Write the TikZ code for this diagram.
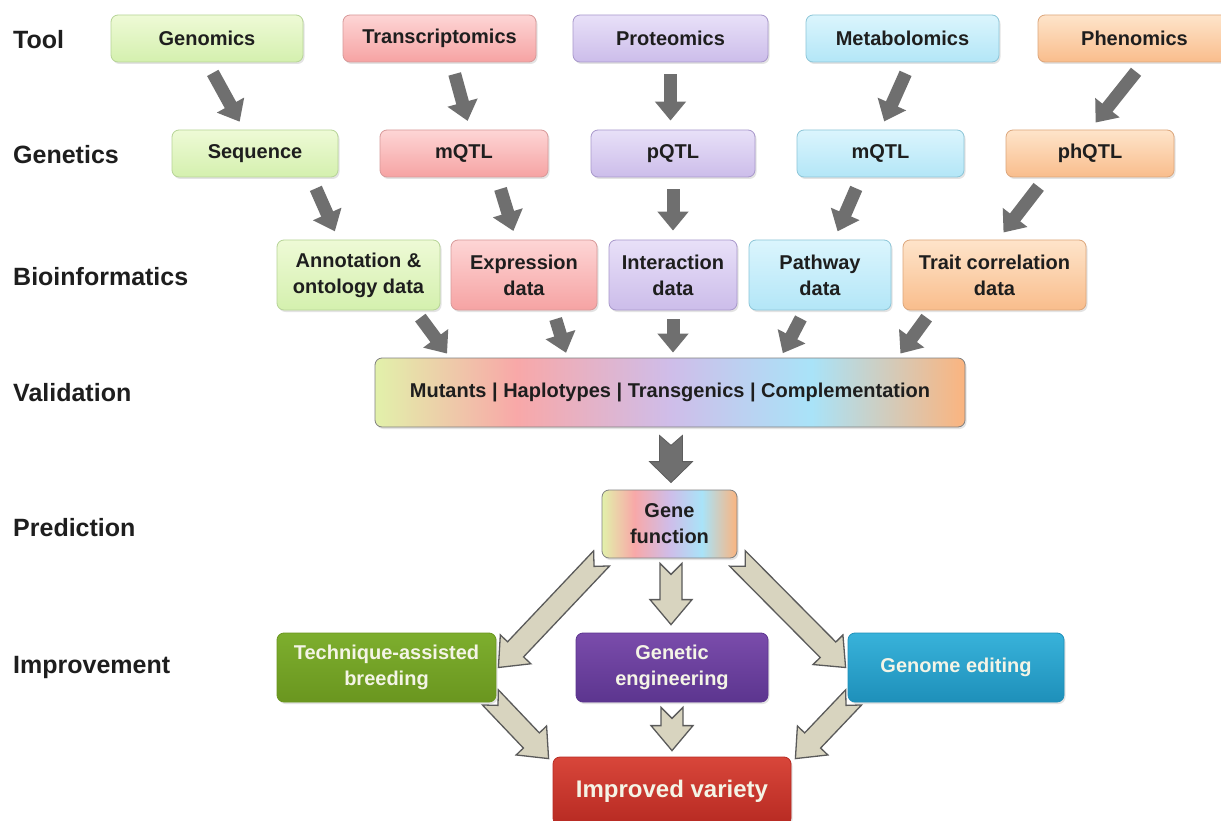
\documentclass[tikz,border=0pt]{standalone}
\usepackage{fontspec}
\setmainfont{Liberation Sans}
\usetikzlibrary{arrows.meta,calc,shadows,backgrounds}

\definecolor{textdark}{HTML}{1E1E1E}
\definecolor{arrowgray}{HTML}{6F6F6F}
\definecolor{beige}{HTML}{D8D4BF}
\definecolor{outlinegray}{HTML}{5A5A5A}
\definecolor{gtop}{HTML}{EEFAD6}\definecolor{gbot}{HTML}{D4F0AE}\definecolor{gborder}{HTML}{B7D497}
\definecolor{rtop}{HTML}{FDD5D5}\definecolor{rbot}{HTML}{F6A3A3}\definecolor{rborder}{HTML}{D79999}
\definecolor{ptop}{HTML}{E8E0F8}\definecolor{pbot}{HTML}{CCBDEA}\definecolor{pborder}{HTML}{A898CB}
\definecolor{ctop}{HTML}{DBF5FD}\definecolor{cbot}{HTML}{B3E6F7}\definecolor{cborder}{HTML}{8DC6D8}
\definecolor{otop}{HTML}{FEE4CA}\definecolor{obot}{HTML}{F9BD8C}\definecolor{oborder}{HTML}{DCA67B}
\definecolor{vgreen}{HTML}{E2F1AA}
\definecolor{vred}{HTML}{F8A8A8}
\definecolor{vpurple}{HTML}{CFBDE9}
\definecolor{vcyan}{HTML}{A9E3F8}
\definecolor{vorange}{HTML}{FBB47F}
\definecolor{imgreen}{HTML}{7DAE2E}\definecolor{imgreendk}{HTML}{6A961F}
\definecolor{impurple}{HTML}{7A4CAB}\definecolor{impurpledk}{HTML}{5C358F}
\definecolor{imblue}{HTML}{38B2DA}\definecolor{imbluedk}{HTML}{1E90BA}
\definecolor{imred}{HTML}{D8463A}\definecolor{imreddk}{HTML}{B72A22}
\definecolor{imtext}{HTML}{F4F4E6}

\pgfdeclarehorizontalshading{rainbow}{100bp}{color(0bp)=(vgreen); color(25bp)=(vgreen);
  color(37bp)=(vred); color(50bp)=(vpurple); color(62bp)=(vcyan); color(75bp)=(vorange);
  color(100bp)=(vorange)}

\tikzset{
  box/.style={rectangle, rounded corners=7pt, draw, line width=0.8pt, align=center,
    minimum height=47pt, inner sep=2pt, text=textdark,
    font=\fontsize{20}{26}\selectfont\bfseries,
    drop shadow={shadow xshift=1.5pt, shadow yshift=-2pt, opacity=0.22}},
  greenbox/.style={box, draw=gborder, top color=gtop, bottom color=gbot},
  redbox/.style={box, draw=rborder, top color=rtop, bottom color=rbot},
  purplebox/.style={box, draw=pborder, top color=ptop, bottom color=pbot},
  cyanbox/.style={box, draw=cborder, top color=ctop, bottom color=cbot},
  orangebox/.style={box, draw=oborder, top color=otop, bottom color=obot},
  mixbox/.style={box, draw=gray, shading=rainbow},
  improvebox/.style={box, minimum height=69pt, text=imtext},
  rowlabel/.style={anchor=west, inner sep=0pt, text=textdark,
    font=\fontsize{25}{30}\selectfont\bfseries},
  darrow/.style={draw=arrowgray, line width=13pt, -{Triangle[width=30pt,length=19pt]},
    shorten <=12pt, shorten >=9pt},
  shortarrow/.style={darrow, shorten <=9pt, shorten >=5pt},
  arrowdims/.code args={#1/#2/#3/#4}{\def\arrshaft{#1}\def\arrwing{#2}\def\arrhead{#3}\def\arrnotch{#4}},
  hollowarrow/.style={fill=beige, draw=outlinegray, line width=1.3pt, line join=miter,
    arrowdims={11pt/21pt/25pt/11pt}},
  bigarrow/.style={fill=arrowgray, draw=arrowgray!85!black, line width=0.8pt, line join=miter,
    arrowdims={11.5pt/21.5pt/21pt/10pt}},
}

% block arrow with notched tail: [style]{tail}{tip}
\newcommand{\blockarrow}[3][hollowarrow]{%
  \begin{scope}[#1]
    \coordinate (ba-a) at (#2);
    \coordinate (ba-b) at (#3);
    \coordinate (ba-m) at ($(ba-b)!\arrhead!(ba-a)$);
    \filldraw ($(ba-a)!\arrnotch!(ba-b)$)
      -- ($(ba-a)!\arrshaft!90:(ba-b)$)
      -- ($(ba-m)!\arrshaft!90:(ba-b)$)
      -- ($(ba-m)!\arrwing!90:(ba-b)$)
      -- (ba-b)
      -- ($(ba-m)!\arrwing!-90:(ba-b)$)
      -- ($(ba-m)!\arrshaft!-90:(ba-b)$)
      -- ($(ba-a)!\arrshaft!-90:(ba-b)$)
      -- cycle;
  \end{scope}}

\begin{document}
\begin{tikzpicture}[x=1pt,y=-1pt]
  \useasboundingbox (0,0) rectangle (1221,821);

  % row labels
  \node[rowlabel] (ltool) at (13,40) {Tool};
  \node[rowlabel] (lgenetics) at (13,155) {Genetics};
  \node[rowlabel] (lbioinf) at (13,277) {Bioinformatics};
  \node[rowlabel] (lvalid) at (13,393) {Validation};
  \node[rowlabel] (lpredict) at (13,528) {Prediction};
  \node[rowlabel] (limprove) at (13,667) {Improvement};

  % tools
  \node[greenbox, minimum width=192pt] (genomics) at (207,38.5) {Genomics};
  \node[redbox, minimum width=193pt] (transcriptomics) at (439.5,38.5) {Transcriptomics};
  \node[purplebox, minimum width=195pt] (proteomics) at (670.5,38.5) {Proteomics};
  \node[cyanbox, minimum width=193pt] (metabolomics) at (902.5,38.5) {Metabolomics};
  \node[orangebox, minimum width=193pt] (phenomics) at (1134.5,38.5) {Phenomics};

  % genetics
  \node[greenbox, minimum width=166pt] (sequence) at (255,153.5) {Sequence};
  \node[redbox, minimum width=168pt] (mqtla) at (464,153.5) {mQTL};
  \node[purplebox, minimum width=164pt] (pqtl) at (673,153.5) {pQTL};
  \node[cyanbox, minimum width=167pt] (mqtlb) at (880.5,153.5) {mQTL};
  \node[orangebox, minimum width=168pt] (phqtl) at (1090,153.5) {phQTL};

  % bioinformatics
  \node[greenbox, minimum width=163pt, minimum height=70pt] (annotation) at (358.5,275) {Annotation \&\\ontology data};
  \node[redbox, minimum width=146pt, minimum height=70pt] (expression) at (524,275) {Expression\\data};
  \node[purplebox, minimum width=128pt, minimum height=70pt] (interaction) at (673,275) {Interaction\\data};
  \node[cyanbox, minimum width=142pt, minimum height=70pt] (pathway) at (820,275) {Pathway\\data};
  \node[orangebox, minimum width=183pt, minimum height=70pt] (trait) at (994.5,275) {Trait correlation\\data};

  % validation and prediction
  \node[mixbox, minimum width=590pt, minimum height=69pt] (validation) at (670,392.5) {Mutants | Haplotypes | Transgenics | Complementation};
  \node[mixbox, minimum width=135pt, minimum height=68pt] (gene) at (669.5,524) {Gene\\function};

  % improvement
  \node[improvebox, draw=imgreendk, top color=imgreen, bottom color=imgreendk, minimum width=219pt] (technique) at (386.5,667.5) {Technique-assisted\\breeding};
  \node[improvebox, draw=impurpledk, top color=impurple, bottom color=impurpledk, minimum width=192pt] (geneng) at (672,667.5) {Genetic\\engineering};
  \node[improvebox, draw=imbluedk, top color=imblue, bottom color=imbluedk, minimum width=216pt] (genomeed) at (956,667.5) {Genome editing};
  \node[improvebox, draw=imreddk, top color=imred, bottom color=imreddk, minimum width=238pt, minimum height=68pt,
    font=\fontsize{24}{28}\selectfont\bfseries] (improved) at (672,791) {Improved variety};

  \begin{pgfonlayer}{background}
    \fill[white] (0,0) rectangle (1221,821);

    % tool -> genetics
    \draw[darrow] (genomics.south) -- ($(sequence.north)+(-11,0)$);
    \draw[darrow] ($(transcriptomics.south)+(12,0)$) -- ($(mqtla.north)+(6,0)$);
    \draw[darrow] (proteomics.south) -- (proteomics.south |- pqtl.north);
    \draw[darrow] ($(metabolomics.south)+(8,0)$) -- (mqtlb.north);
    \draw[darrow] ($(phenomics.south)+(9,0)$) -- (phqtl.north);

    % genetics -> bioinformatics
    \draw[darrow] ($(sequence.south)+(56,0)$) -- ($(annotation.north)+(-20,0)$);
    \draw[darrow] ($(mqtla.south)+(33,0)$) -- ($(expression.north)+(-8,0)$);
    \draw[darrow] (pqtl.south) -- (pqtl.south |- interaction.north);
    \draw[darrow] ($(mqtlb.south)+(-19.5,0)$) -- ($(pathway.north)+(14,0)$);
    \draw[darrow] ($(phqtl.south)+(-44,0)$) -- ($(trait.north)+(3.5,0)$);

    % bioinformatics -> validation
    \draw[shortarrow] ($(annotation.south)+(56.5,0)$) -- ($(validation.north)+(-220,0)$);
    \draw[shortarrow] ($(expression.south)+(29,0)$) -- ($(validation.north)+(-102.5,0)$);
    \draw[shortarrow] (interaction.south) -- (interaction.south |- validation.north);
    \draw[shortarrow] ($(pathway.south)+(-15,0)$) -- ($(validation.north)+(110.5,0)$);
    \draw[shortarrow] ($(trait.south)+(-62.5,0)$) -- ($(validation.north)+(227.5,0)$);

    % validation -> prediction
    \blockarrow[bigarrow]{$(validation.south)+(1,8)$}{$(gene.north)+(1.5,-7)$}

    % prediction -> improvement -> variety
    \blockarrow{gene.south west}{$(technique.east)+(2,0)$}
    \blockarrow{$(gene.south)+(1.5,5)$}{$(geneng.north)+(-1,-8)$}
    \blockarrow{gene.south east}{$(genomeed.west)+(-2,0)$}
    \blockarrow{$(technique.south east)+(-6,-5)$}{$(improved.north west)+(-4,2)$}
    \blockarrow{$(geneng.south)+(0,5)$}{$(improved.north)+(0,-6)$}
    \blockarrow{$(genomeed.south west)+(6,-5)$}{$(improved.north east)+(4,2)$}
  \end{pgfonlayer}
\end{tikzpicture}
\end{document}
